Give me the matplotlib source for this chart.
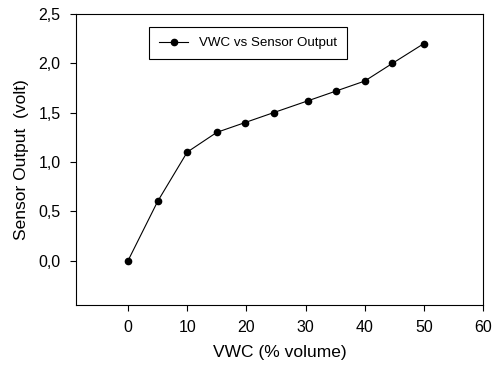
import matplotlib
matplotlib.use('Agg')
import matplotlib.pyplot as plt
from matplotlib.ticker import FuncFormatter

# VWC vs sensor output readings
vwc = [0, 5, 10, 15, 19.8, 24.6, 30.4, 35.2, 40, 44.7, 50]
output = [0.0, 0.6, 1.1, 1.3, 1.4, 1.5, 1.62, 1.72, 1.82, 2.0, 2.2]
xticks = [0, 10, 20, 30, 40, 50, 60]
yticks = [0.0, 0.5, 1.0, 1.5, 2.0, 2.5]

plt.rcParams['font.family'] = ['Liberation Sans', 'DejaVu Sans']

fig = plt.figure(figsize=(4.94, 3.68), dpi=100)
ax = fig.add_axes([76/494, 1 - 305/368, (483-76)/494, (305-14)/368])
ax.plot(vwc, output, color='black', lw=0.8, marker='o', markersize=4.5,
        label='VWC vs Sensor Output')

ax.set_xlim(-8.8, 60)
ax.set_ylim(-0.45, 2.5)
ax.set_xticks(xticks)
ax.set_yticks(yticks)
ax.yaxis.set_major_formatter(FuncFormatter(lambda v, p: ('%.1f' % v).replace('.', ',')))
ax.tick_params(direction='out', length=4, width=0.8, labelsize=11.5, pad=7)
for s in ax.spines.values():
    s.set_linewidth(0.8)

ax.set_xlabel('VWC (% volume)', fontsize=12.5, labelpad=7)
ax.set_ylabel('Sensor Output  (volt)', fontsize=12.5, labelpad=7)

leg = ax.legend(loc='upper left', bbox_to_anchor=((149-76)/407, 1 - (27-14)/291),
                borderaxespad=0, fontsize=9.6, fancybox=False, framealpha=1,
                edgecolor='black', handlelength=2.2, borderpad=0.75)
leg.get_frame().set_linewidth(0.8)

fig.savefig('out.png', dpi=100)
